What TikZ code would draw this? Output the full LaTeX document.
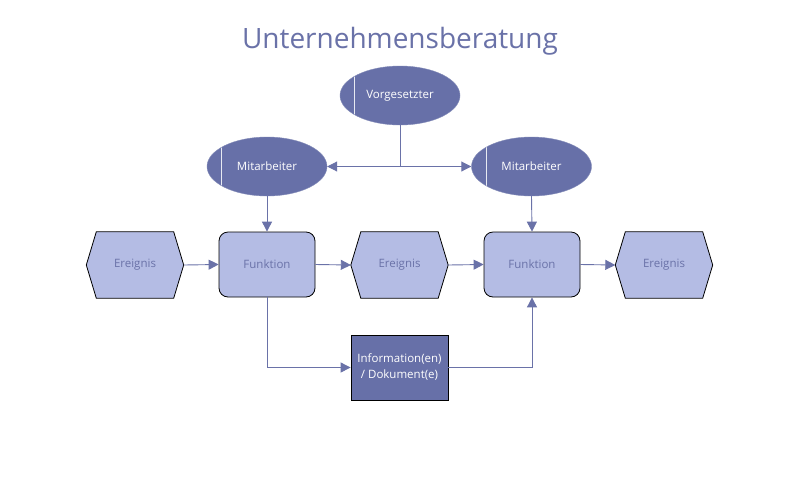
\documentclass[tikz,border=0pt]{standalone}
\usepackage{fontspec}
\setmainfont{Open Sans}
\usetikzlibrary{shapes.geometric,arrows.meta,calc}
\definecolor{dark}{HTML}{6770A8}
\definecolor{light}{HTML}{B4BCE4}
\definecolor{ink}{HTML}{6A72A8}
\tikzset{
  txt/.style={font=\fontsize{11.5}{13}\selectfont},
  role/.style={ellipse, fill=dark, draw=dark!80!white, minimum width=120pt, minimum height=59pt, inner sep=0pt,
    text=white, txt,
    path picture={\draw[white!85!dark, line width=1pt] ([xshift=-45.5pt,yshift=-40pt]path picture bounding box.center) -- ([xshift=-45.5pt,yshift=40pt]path picture bounding box.center);}},
  func/.style={rectangle, rounded corners=9pt, fill=light, draw=black, line width=0.8pt, minimum width=96pt, minimum height=65pt,
    text=ink, txt},
  evt/.style={rectangle, minimum width=97pt, minimum height=66pt, text=ink, txt},
  hexline/.style={fill=light, draw=black, line width=0.8pt},
  info/.style={rectangle, fill=dark, draw=black, line width=0.8pt, minimum width=97pt, minimum height=65pt,
    text=white, align=center, font=\fontsize{11.5}{16}\selectfont},
  conn/.style={draw=ink, line width=0.9pt, -{Triangle[length=10pt,width=10pt]}},
  plain/.style={draw=ink, line width=0.9pt},
}
\newcommand{\hexbox}[1]{%
  \path[hexline] (#1.west) -- ([xshift=10pt]#1.north west) -- ([xshift=-10pt]#1.north east) -- (#1.east)
    -- ([xshift=-10pt]#1.south east) -- ([xshift=10pt]#1.south west) -- cycle;}
\begin{document}
\begin{tikzpicture}[x=1pt,y=-1pt]
\useasboundingbox[fill=white] (0,0) rectangle (800,480);
\node[text=ink, font=\fontsize{28}{32}\selectfont] (title) at (400,41) {Unternehmensberatung};

\node[role] (v) at (400,95.5) {Vorgesetzter};
\node[role] (m1) at (267,166.5) {Mitarbeiter};
\node[role] (m2) at (531.5,166.5) {Mitarbeiter};

\node[evt] (e1) at (135,265) {};
\node[evt] (e2) at (399.5,265) {};
\node[evt] (e3) at (664,265) {};
\hexbox{e1}\hexbox{e2}\hexbox{e3}
\node[evt] at (e1) {Ereignis};
\node[evt] at (e2) {Ereignis};
\node[evt] at (e3) {Ereignis};

\node[func] (f1) at (267,264.5) {Funktion};
\node[func] (f2) at (532,264.5) {Funktion};

\node[info] (i) at (399.5,367.5) {Information(en)\\/ Dokument(e)};

\coordinate (j) at (400,166.5);
\draw[plain] (v.south) -- (j);
\draw[conn] (j) -- (m1.east);
\draw[conn] (j) -- (m2.west);
\draw[conn] (m1.south) -- (f1.north);
\draw[conn] (m2.south) -- (f2.north);
\draw[conn] (e1.east) -- (f1.west);
\draw[conn] (f1.east) -- (e2.west);
\draw[conn] (e2.east) -- (f2.west);
\draw[conn] (f2.east) -- (e3.west);
\draw[conn] (f1.south) |- (i.west);
\draw[conn] (i.east) -| (f2.south);
\end{tikzpicture}
\end{document}
